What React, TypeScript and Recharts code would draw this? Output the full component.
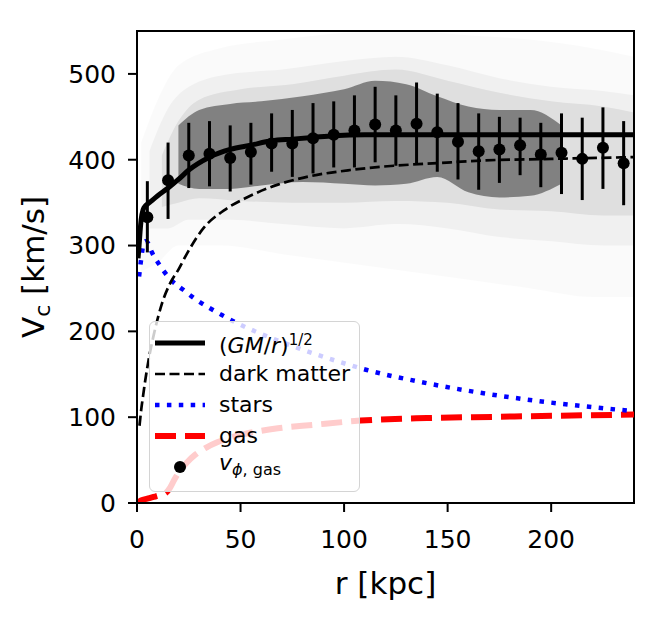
import React from "react";
import {
  Area,
  ComposedChart,
  ErrorBar,
  Label,
  Line,
  ReferenceArea,
  Scatter,
  XAxis,
  YAxis,
} from "recharts";

const FONT = "DejaVu Sans";

// binned v_phi,gas measurements (kpc, km/s)
const binR = [5, 15, 25, 35, 45, 55, 65, 75, 85, 95, 105, 115, 125, 135, 145, 155, 165, 175, 185, 195, 205, 215, 225, 235];
const binV = [333, 376, 405, 407, 402, 409, 419, 419, 425, 429, 434, 441, 434, 442, 432, 421, 410, 412, 417, 406, 408, 401, 414, 396];
const binLo = [292, 331, 367, 369, 363, 371, 386, 380, 384, 391, 391, 397, 393, 394, 386, 377, 365, 373, 382, 368, 360, 353, 366, 347];
const binHi = [375, 420, 443, 445, 440, 443, 454, 458, 466, 468, 475, 485, 475, 490, 477, 466, 454, 450, 449, 443, 454, 449, 461, 445];

// (GM/r)^1/2 total
const totR = [0.5, 1, 1.5, 2, 3, 4, 6, 10, 15, 20, 25, 35, 45, 55, 65, 75, 85, 95, 110, 130, 160, 200, 240];
const totV = [285, 300, 317, 330, 342, 346, 350, 358, 367, 377, 388, 403, 412, 417, 422, 424, 426, 428, 429, 429, 429, 429, 429];

// dark matter
const dmR = [1.2, 2, 3, 4, 6, 8, 10, 12, 16, 20, 24, 32, 42, 53, 68, 84, 103, 124, 145, 166, 200, 240];
const dmV = [90, 108, 126, 143, 172, 195, 215, 232, 256, 272, 290, 320, 341, 356, 371, 381, 388, 393, 396, 399, 401, 403];

// stars
const starR = [1, 2, 3, 4, 5, 7, 11, 16, 22, 28, 41, 48, 60, 75, 97, 111, 137, 175, 200, 240];
const starV = [264, 284, 300, 305, 304, 293, 277, 261, 249, 238, 219, 210, 197, 183, 165, 155, 141, 125, 117, 107];

// gas
const gasR = [0.3, 2, 5, 8, 12, 14, 16, 18, 20, 24, 28, 33, 39, 46, 53, 68, 85, 108, 140, 175, 210, 240];
const gasV = [0, 3, 5, 7, 10, 12, 18, 27, 35, 47, 56, 64, 71, 77, 81, 87, 91, 96, 99, 100.5, 102, 103];

// particle cloud, read as density bands (faint haze -> dense core)
const hazeR = [2, 10, 20, 40, 70, 100, 130, 160, 190, 220, 240];
const hazeLo = [270, 280, 300, 300, 290, 280, 270, 260, 250, 240, 240];
const hazeHi = [420, 470, 510, 530, 540, 548, 550, 545, 540, 530, 520];

const outerR = [6, 15, 25, 45, 70, 100, 125, 150, 175, 200, 225, 240];
const outerLo = [320, 320, 330, 330, 325, 320, 325, 320, 310, 305, 300, 300];
const outerHi = [410, 460, 485, 500, 505, 515, 520, 510, 495, 485, 480, 475];

const midR = [12, 20, 30, 50, 75, 100, 125, 150, 175, 200, 225, 240];
const midLo = [345, 350, 355, 352, 350, 350, 352, 350, 342, 340, 335, 335];
const midHi = [405, 445, 470, 482, 488, 498, 505, 492, 478, 468, 462, 455];

const coreR = [20, 30, 45, 60, 80, 100, 115, 130, 145, 160, 175, 190, 205];
const coreLo = [372, 366, 366, 370, 374, 372, 370, 372, 380, 362, 356, 358, 372];
const coreHi = [440, 458, 465, 468, 474, 482, 492, 488, 474, 462, 458, 458, 440];

const xTicks = [0, 50, 100, 150, 200];
const yTicks = [0, 100, 200, 300, 400, 500];

const curve = (rs: number[], vs: number[]) => rs.map((r, i) => ({ r, v: vs[i] }));
const band = (rs: number[], lo: number[], hi: number[]) =>
  rs.map((r, i) => ({ r, band: [lo[i], hi[i]] }));

const binData = binR.map((r, i) => ({
  r,
  v: binV[i],
  err: [binV[i] - binLo[i], binHi[i] - binV[i]],
}));

const YLabel = ({ viewBox }: any) => {
  const cx = viewBox.x + 44;
  const cy = viewBox.y + viewBox.height / 2;
  return (
    <text
      x={cx}
      y={cy}
      transform={`rotate(-90 ${cx} ${cy})`}
      textAnchor="middle"
      fontSize={31}
      fontFamily={FONT}
      fill="#000"
    >
      V
      <tspan fontSize={22} dy={6}>c</tspan>
      <tspan dy={-6}> [km/s]</tspan>
    </text>
  );
};

const legendRows = [
  { stroke: "#000", width: 5, dash: undefined, label: <span>(<i>GM</i>/<i>r</i>)<sup style={{ fontSize: 15 }}>1/2</sup></span> },
  { stroke: "#000", width: 2.7, dash: "10 4.5", label: <span>dark matter</span> },
  { stroke: "#0000ff", width: 4.5, dash: "4.5 7.4", label: <span>stars</span> },
  { stroke: "#ff0000", width: 6, dash: "21 9", label: <span>gas</span> },
  { stroke: null, width: 0, dash: undefined, label: <span><i>v</i><sub style={{ fontSize: 16 }}><i>ϕ</i>, gas</sub></span> },
];

const LegendBox = () => (
  <div
    style={{
      position: "absolute",
      left: 149,
      top: 321,
      width: 211,
      height: 171,
      boxSizing: "border-box",
      border: "1.5px solid #d4d4d4",
      borderRadius: 6,
      background: "rgba(255,255,255,0.8)",
      fontFamily: FONT,
      fontSize: 22,
      color: "#000",
    }}
  >
    {legendRows.map((row, i) => (
      <div
        key={i}
        style={{
          position: "absolute",
          left: 5,
          top: 20.5 + 31 * i - 15,
          height: 30,
          display: "flex",
          alignItems: "center",
          whiteSpace: "nowrap",
        }}
      >
        <svg width={50} height={30} style={{ display: "block" }}>
          {row.stroke ? (
            <line x1={0} x2={50} y1={15} y2={15} stroke={row.stroke} strokeWidth={row.width} strokeDasharray={row.dash} />
          ) : (
            <circle cx={25} cy={15} r={6} fill="#000" />
          )}
        </svg>
        <div style={{ marginLeft: 14, lineHeight: "30px" }}>{row.label}</div>
      </div>
    ))}
  </div>
);

const bandProps = {
  dataKey: "band",
  type: "monotone" as const,
  stroke: "none",
  fill: "#000",
  isAnimationActive: false,
  activeDot: false,
};

const App = () => {
  return (
    <div style={{ position: "absolute", left: 0, top: 0, width: 665, height: 618, background: "#fff" }}>
      <ComposedChart width={665} height={618} margin={{ top: 31, right: 31, bottom: 0, left: 0 }}>
        <XAxis
          dataKey="r"
          type="number"
          domain={[0, 240]}
          ticks={xTicks}
          allowDataOverflow
          height={115}
          stroke="#000"
          strokeWidth={2}
          tickSize={9}
          tickMargin={18}
          tick={{ fill: "#000", fontSize: 25, fontFamily: FONT }}
        >
          <Label value="r [kpc]" position="insideBottom" offset={24} fontSize={31} fontFamily={FONT} fill="#000" />
        </XAxis>
        <YAxis
          type="number"
          domain={[0, 550]}
          ticks={yTicks}
          allowDataOverflow
          width={137}
          stroke="#000"
          strokeWidth={2}
          tickSize={9}
          tickMargin={12}
          tick={{ fill: "#000", fontSize: 25, fontFamily: FONT }}
        >
          <Label content={YLabel} />
        </YAxis>

        <Area {...bandProps} data={band(hazeR, hazeLo, hazeHi)} fillOpacity={0.02} />
        <Area {...bandProps} data={band(outerR, outerLo, outerHi)} fillOpacity={0.04} />
        <Area {...bandProps} data={band(midR, midLo, midHi)} fillOpacity={0.07} />
        <Area {...bandProps} data={band(coreR, coreLo, coreHi)} fillOpacity={0.42} />

        <Line data={curve(gasR, gasV)} dataKey="v" type="monotone" stroke="#ff0000" strokeWidth={6} strokeDasharray="21 9" dot={false} activeDot={false} isAnimationActive={false} />
        <Line data={curve(starR, starV)} dataKey="v" type="monotone" stroke="#0000ff" strokeWidth={4.5} strokeDasharray="4.5 7.4" dot={false} activeDot={false} isAnimationActive={false} />
        <Line data={curve(dmR, dmV)} dataKey="v" type="monotone" stroke="#000" strokeWidth={2.7} strokeDasharray="10 4.5" dot={false} activeDot={false} isAnimationActive={false} />
        <Line data={curve(totR, totV)} dataKey="v" type="monotone" stroke="#000" strokeWidth={5} dot={false} activeDot={false} isAnimationActive={false} />

        <Scatter
          data={binData}
          dataKey="v"
          isAnimationActive={false}
          shape={(p: any) => <circle cx={p.cx} cy={p.cy} r={6} fill="#000" />}
        >
          <ErrorBar dataKey="err" direction="y" width={0} stroke="#000" strokeWidth={3} />
        </Scatter>

        <ReferenceArea x1={0} x2={240} y1={0} y2={550} fill="none" stroke="#000" strokeWidth={2} strokeOpacity={1} fillOpacity={0} />
      </ComposedChart>
      <LegendBox />
    </div>
  );
};

export default App;
